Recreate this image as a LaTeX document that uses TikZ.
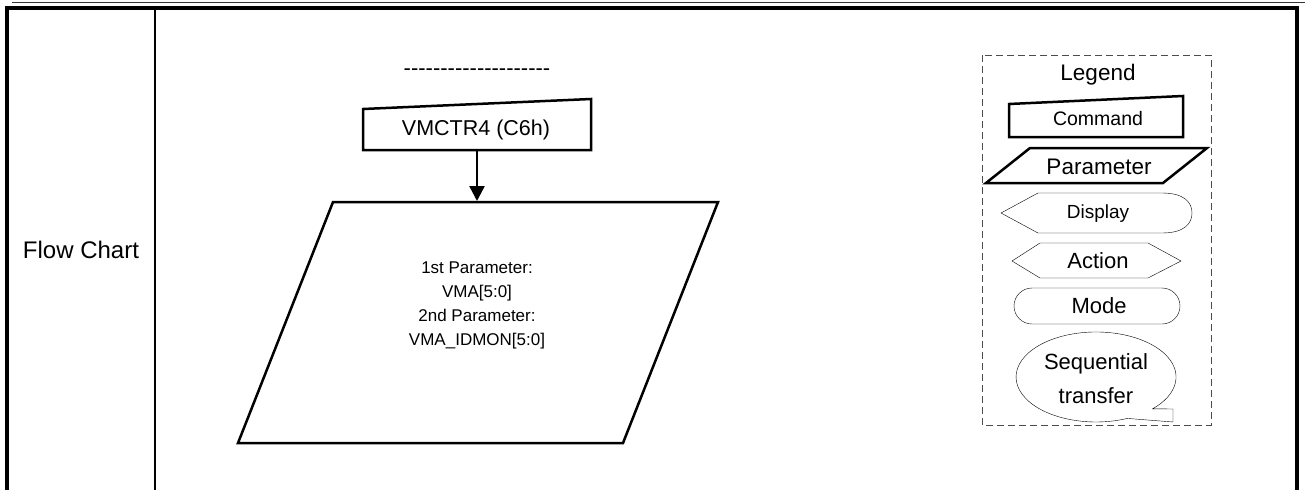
\documentclass[tikz,border=0pt]{standalone}
\usepackage{fontspec}
\setmainfont{Liberation Sans}
\usepackage{tikz}
\usetikzlibrary{arrows.meta}

\newcommand{\fsz}[1]{\fontsize{#1}{#1}\selectfont}

\begin{document}
\begin{tikzpicture}[x=1pt, y=-1pt]
    \useasboundingbox (0, 0) rectangle (1305, 490);

    % Table frame
    \draw[black!80, line width=1.5] (12, 2.5) -- (1305, 2.5);
    \draw[line width=4] (7, 490) -- (7, 7.5) -- (1297, 7.5) -- (1297, 490);
    \draw[line width=2] (155, 7.5) -- (155, 490);
    \node (flow) at (81, 250) {\fsz{24}Flow Chart};

    % Command box
    \node (dashes) at (477, 72) {\fsz{22}-{}-{}-{}-{}-{}-{}-{}-{}-{}-{}-{}-{}-{}-{}-{}-{}-{}-{}-{}-};
    \draw[line width=2.5, line join=miter] (363, 109) -- (591, 99) -- (591, 150) -- (363, 150) -- cycle;
    \node (cmd) at (476, 130) {\fsz{21.5}VMCTR4 (C6h)};
    \coordinate (cmdout) at (477, 150);

    % Parameter box
    \draw[line width=2.5, line join=miter] (333, 202) -- (718, 202) -- (623, 443) -- (238, 443) -- cycle;
    \node[align=center, font=\fontsize{17}{24}\selectfont] (para) at (477, 305)
        {1st Parameter:\\VMA[5:0]\\2nd Parameter:\\VMA\_IDMON[5:0]};
    \coordinate (parin) at (477, 201);
    \draw[line width=2.5, -{Triangle[length=15pt, width=15pt]}] (cmdout) -- (parin);

    % Legend
    \draw[black!70, line width=1, dash pattern=on 7pt off 4pt] (982, 55) rectangle (1211, 425);
    \node (legend) at (1098, 75) {\fsz{22.5}Legend};

    \draw[line width=2.5, line join=miter] (1009, 104) -- (1183, 96) -- (1183, 137) -- (1009, 137) -- cycle;
    \node (lgcmd) at (1098, 119) {\fsz{19.5}Command};

    \draw[line width=2.5, line join=miter] (986, 183) -- (1030, 148) -- (1207, 148) -- (1163, 183) -- cycle;
    \node (lgpar) at (1099, 167) {\fsz{22.5}Parameter};

    \draw (1001, 213) -- (1038, 193) -- (1162, 193)
        .. controls (1185, 193) and (1192, 203) .. (1192, 213)
        .. controls (1192, 223) and (1185, 233) .. (1162, 233) -- (1038, 233) -- cycle;
    \node (lgdisp) at (1098, 214) {\fsz{19}Display};

    \draw (1012, 261) -- (1040, 243) -- (1148, 243) -- (1181, 261) -- (1148, 278) -- (1040, 278) -- cycle;
    \node (lgact) at (1098, 261) {\fsz{22}Action};

    \draw[rounded corners=18] (1014, 288) rectangle (1180, 324);
    \node (lgmode) at (1099, 306) {\fsz{22}Mode};

    \draw (1127.3, 418.4) arc[start angle=67, end angle=405, x radius=80, y radius=45]
        -- (1173, 409) -- (1173, 422) -- cycle;
    \node[align=center, font=\fontsize{22}{34}\selectfont] (lgseq) at (1096, 379) {Sequential\\transfer};
\end{tikzpicture}
\end{document}
